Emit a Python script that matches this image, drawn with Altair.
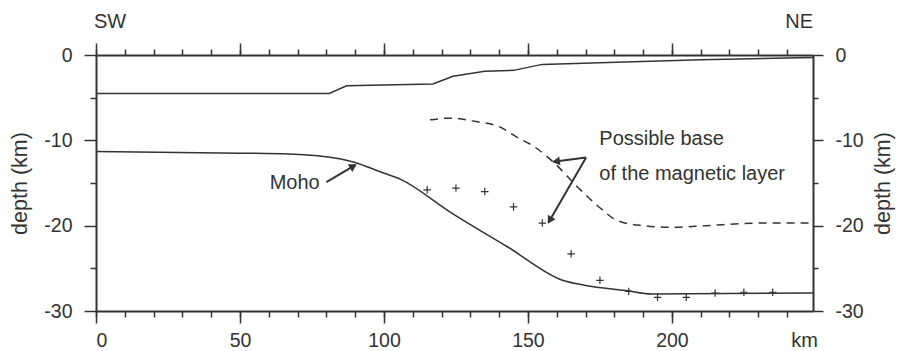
import altair as alt
import pandas as pd

# ---- data ----
top_km = [0, 81, 87, 117, 124, 135, 145, 155, 175, 210, 249]
top_depth = [-4.5, -4.5, -3.6, -3.4, -2.5, -1.9, -1.8, -1.1, -0.9, -0.55, -0.3]

moho_km = [0, 50, 67, 85, 90, 98, 106, 123, 143, 162, 170, 184, 193, 249]
moho_depth = [-11.3, -11.5, -11.6, -12.2, -12.6, -13.6, -14.6, -18.4, -22.5, -26.4, -27.0, -27.6, -28.0, -27.9]

mag_km = [116, 123, 132, 140, 146, 152, 159, 167, 175, 181, 190, 200, 212, 230, 249]
mag_depth = [-7.6, -7.4, -7.8, -8.4, -9.6, -10.7, -12.6, -15.4, -17.9, -19.4, -20.0, -20.2, -20.0, -19.7, -19.7]

cross_km = [115, 125, 135, 145, 155, 165, 175, 185, 195, 205, 215, 225, 235]
cross_depth = [-15.8, -15.6, -16.0, -17.8, -19.7, -23.3, -26.4, -27.7, -28.4, -28.4, -27.9, -27.8, -27.8]

x_major = [0, 50, 100, 150, 200]
x_minor = list(range(0, 250, 10))
y_major = [0, -10, -20, -30]
y_minor = [-5, -15, -25]

moho_label = ["Moho"]
moho_label_km = [69]
moho_label_depth = [-14.95]

mag_label = ["Possible base", "of the magnetic layer"]
mag_label_km = [174.8, 174.8]
mag_label_depth = [-9.9, -14.0]

arrow_km = [80.0, 170.2, 170.2]
arrow_depth = [-14.9, -12.0, -12.0]
arrow_km2 = [90.0, 158.9, 157.2]
arrow_depth2 = [-12.9, -12.5, -19.6]
head_km = [89.0, 160.2, 157.8]
head_depth = [-13.1, -12.45, -19.25]
head_angle = [60, 262, 210]

FONT = "Liberation Sans"
INK = "#333333"
XDOM = [0, 249]
YDOM = [-30, 0]

xs = alt.Scale(domain=XDOM, nice=False, zero=False)
ys = alt.Scale(domain=YDOM, nice=False, zero=False)

HYPHEN_LABEL = "datum.value < 0 ? '-' + abs(datum.value) : '' + datum.value"


def ax(orient, values, tick, labels, domain, title=None, pad=12, tx=None):
    kw = dict(orient=orient, values=values, tickSize=tick, labels=labels,
              domain=domain, grid=False, ticks=True, tickColor=INK, tickWidth=1.5,
              domainColor=INK, domainWidth=2, labelFont=FONT, labelFontSize=19.5,
              labelColor=INK, labelPadding=pad, title=title, labelExpr=HYPHEN_LABEL)
    if title:
        kw.update(titleFont=FONT, titleFontSize=21.5, titleColor=INK,
                  titleFontWeight="normal", titleAngle=270, titleX=tx, titleY=128,
                  titleAlign="center", titleBaseline="middle")
    return alt.Axis(**kw)


top_df = pd.DataFrame({"km": top_km, "depth": top_depth})
moho_df = pd.DataFrame({"km": moho_km, "depth": moho_depth})
mag_df = pd.DataFrame({"km": mag_km, "depth": mag_depth})
cross_df = pd.DataFrame({"km": cross_km, "depth": cross_depth})

moho = alt.Chart(moho_df).mark_line(color=INK, strokeWidth=1.5, interpolate="monotone").encode(
    x=alt.X("km:Q", scale=xs, axis=ax("bottom", x_major, 12, True, True, pad=8)),
    y=alt.Y("depth:Q", scale=ys, axis=ax("left", y_major, 12, True, True, title="depth (km)", tx=-76)),
)

top = alt.Chart(top_df).mark_line(color=INK, strokeWidth=1.5).encode(
    x=alt.X("km:Q", scale=xs, axis=ax("top", x_major, 12, False, True)),
    y=alt.Y("depth:Q", scale=ys, axis=ax("right", y_major, 10, True, True, title="depth (km)", tx=70)),
)

mag = alt.Chart(mag_df).mark_line(color=INK, strokeWidth=1.5, strokeDash=[8, 6], interpolate="monotone").encode(
    x=alt.X("km:Q", scale=xs, axis=ax("bottom", x_minor, 6, False, False)),
    y=alt.Y("depth:Q", scale=ys, axis=ax("left", y_minor, 6, False, False)),
)

cross = alt.Chart(cross_df).mark_point(
    shape="M-1,0L1,0M0,-1L0,1", size=56, color=INK, strokeWidth=1.2, filled=False, opacity=1
).encode(
    x=alt.X("km:Q", scale=xs, axis=ax("top", x_minor, 6, False, False)),
    y=alt.Y("depth:Q", scale=ys, axis=ax("right", y_minor, 5, False, False)),
)

arrows = alt.Chart(pd.DataFrame({"km": arrow_km, "depth": arrow_depth,
                                 "km2": arrow_km2, "depth2": arrow_depth2})).mark_rule(
    color=INK, strokeWidth=2).encode(
    x=alt.X("km:Q", scale=xs, axis=None),
    y=alt.Y("depth:Q", scale=ys, axis=None),
    x2="km2:Q", y2="depth2:Q",
)

heads = alt.Chart(pd.DataFrame({"km": head_km, "depth": head_depth, "angle": head_angle})).mark_point(
    shape="triangle", size=80, filled=True, color=INK, opacity=1
).encode(
    x=alt.X("km:Q", scale=xs, axis=None),
    y=alt.Y("depth:Q", scale=ys, axis=None),
    angle=alt.Angle("angle:Q", scale=None),
)

moho_txt = alt.Chart(pd.DataFrame({"km": moho_label_km, "depth": moho_label_depth, "t": moho_label})).mark_text(
    font=FONT, fontSize=20, color=INK, align="center", baseline="middle"
).encode(
    x=alt.X("km:Q", scale=xs, axis=None),
    y=alt.Y("depth:Q", scale=ys, axis=None),
    text="t:N",
)

mag_txt = alt.Chart(pd.DataFrame({"km": mag_label_km, "depth": mag_label_depth, "t": mag_label})).mark_text(
    font=FONT, fontSize=20, color=INK, align="left", baseline="middle"
).encode(
    x=alt.X("km:Q", scale=xs, axis=None),
    y=alt.Y("depth:Q", scale=ys, axis=None),
    text="t:N",
)

sw = alt.Chart(pd.DataFrame({"km": [XDOM[0]], "depth": [0], "t": ["SW"]})).mark_text(
    font=FONT, fontSize=20, color=INK, align="left", baseline="middle", dy=-33, dx=-2
).encode(x=alt.X("km:Q", scale=xs, axis=None), y=alt.Y("depth:Q", scale=ys, axis=None), text="t:N")

ne = alt.Chart(pd.DataFrame({"km": [XDOM[1]], "depth": [0], "t": ["NE"]})).mark_text(
    font=FONT, fontSize=20, color=INK, align="right", baseline="middle", dy=-33
).encode(x=alt.X("km:Q", scale=xs, axis=None), y=alt.Y("depth:Q", scale=ys, axis=None), text="t:N")

km = alt.Chart(pd.DataFrame({"km": [XDOM[1]], "depth": [YDOM[0]], "t": ["km"]})).mark_text(
    font=FONT, fontSize=20, color=INK, align="right", baseline="top", dy=20, dx=5
).encode(x=alt.X("km:Q", scale=xs, axis=None), y=alt.Y("depth:Q", scale=ys, axis=None), text="t:N")

chart = alt.layer(
    moho, top, mag, cross, arrows, heads, moho_txt, mag_txt, sw, ne, km
).resolve_axis(x="independent", y="independent").properties(
    width=717, height=256,
    padding={"left": 96, "top": 55, "right": 87, "bottom": 40},
    autosize=alt.AutoSizeParams(type="none"),
    background="white",
).configure_view(stroke=None)

chart.save("out.html", embed_options={"renderer": "svg", "actions": False})
